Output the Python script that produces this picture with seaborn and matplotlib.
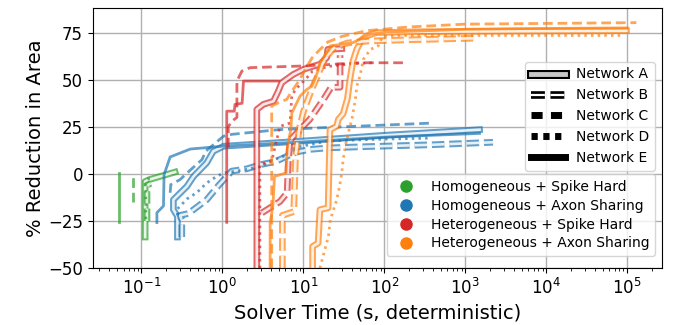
import numpy as np
import seaborn as sns
import matplotlib.pyplot as plt
import matplotlib.patheffects as pe
from matplotlib.lines import Line2D

plt.rcParams['lines.scale_dashes'] = False

# Homogeneous + Spike Hard (green)
hs_a_t = [0.111, 0.111, 0.125, 0.26]
hs_a_y = [-33.5, -4, -3, 1]
hs_b_t = [0.117, 0.117, 0.13]
hs_b_y = [-25, -6, -5]
hs_c_t = [0.078, 0.078]
hs_c_y = [-15, 0]
hs_d_t = [0.113, 0.113, 0.122, 0.122]
hs_d_y = [-24, -5, -3, 0]
hs_e_t = [0.053, 0.053]
hs_e_y = [-25.7, 0.7]

# Homogeneous + Axon Sharing (blue)
ha_a_t = [0.278, 0.278, 0.248, 0.248, 0.364, 0.44, 0.64, 0.77, 1.03, 10, 100, 1500]
ha_a_y = [-33.5, -22.5, -19, -13.7, -6.6, -1.3, 5.9, 12, 14.7, 17.5, 20.5, 23.5]
ha_b_t = [0.315, 0.315, 0.30, 0.38, 0.64, 0.9, 1.3, 2.0, 3.0, 4.5, 8, 12, 20, 60, 400, 2200]
ha_b_y = [-33.5, -25, -22, -21, -13.7, -6, 1.5, 2.7, 5, 6.5, 11.5, 13, 13.8, 14.5, 15.5, 16.8]
ha_c_t = [0.226, 0.23, 0.3, 0.4, 0.56, 0.62, 0.75, 1.03, 1.3, 5, 30, 400]
ha_c_y = [-10, -5.7, -3, 2, 7.6, 12, 15, 20, 21, 23.5, 25, 27]
ha_d_t = [0.278, 0.278, 0.364, 0.48, 0.64, 0.85, 1.03, 1.5, 2.0, 3.0, 4.3, 5.6, 8, 20, 100, 365]
ha_d_y = [-22, -18.6, -13.3, -10, -4.8, -1.3, 0.5, 1.5, 2.5, 4, 7.6, 9.2, 14, 17.5, 18.5, 19]
ha_e_t = [0.155, 0.155, 0.187, 0.19, 0.226, 0.4, 1.0, 10, 100, 1500]
ha_e_y = [-25.8, -20.6, -17, -0.4, 9, 13.2, 14.7, 17, 19.5, 21.5]

# Heterogeneous + Spike Hard (red)
hts_a_t = [2.66, 2.66, 3.2, 4.27, 4.9, 5.4, 7.5, 10, 13.3, 16, 19.4, 20, 29.8]
hts_a_y = [-50, 34.2, 36.9, 38.6, 44, 48.4, 52.8, 55.5, 57.2, 58.2, 61.7, 66.1, 66.5]
hts_b_t = [3.07, 5.15, 6.3, 6.5, 6.85, 12, 18, 22, 28.4, 28.4]
hts_b_y = [-20.7, -14.6, -10, 6, 18, 29, 40, 46, 46, 63]
hts_c_t = [1.18, 1.18, 1.31, 1.51, 1.51, 1.74, 2.2, 10, 50, 192]
hts_c_y = [14, 25, 28, 30, 49.3, 54.6, 56.4, 57.3, 59, 59]
hts_d_t = [2.9, 2.9, 4.07, 4.27, 5.15, 6.85, 7.2, 8.5, 10.5, 13, 20, 40, 70]
hts_d_y = [-50, 5, 6.7, 11, 25.3, 27, 42, 46, 50, 54.6, 57, 58.5, 59]
hts_e_t = [1.13, 1.13, 1.4, 1.43, 1.75, 1.82, 4.9]
hts_e_y = [-25.7, 33.3, 33.3, 36.9, 37.5, 49.3, 49.3]

# Heterogeneous + Axon Sharing (orange)
hta_a_t = [13, 13, 15.2, 16, 20.2, 21.3, 25.8, 27, 31, 35, 37.5, 41, 45.5, 52, 60, 80, 300, 5000, 98000]
hta_a_y = [-50, -38.5, -36.7, -19, -18, 23.5, 25.3, 28.9, 32, 40, 50, 60, 66, 71, 73.2, 75, 75.5, 75.8, 76]
hta_b_t = [5.5, 5.5, 7.6, 8.0, 8.3, 9, 10, 11.5, 13, 15, 17, 20, 24, 35, 60, 200, 1250]
hta_b_y = [-50, -22, -20, 9, 15, 25, 33, 40, 46, 52, 58, 63, 67, 69.5, 70.5, 71.2, 72]
hta_c_t = [4.06, 4.06, 4.9, 6.2, 7.0, 9, 11, 13, 16, 20, 30, 60, 200, 1000, 130000]
hta_c_y = [-50, 36, 37.8, 39.5, 43, 50, 57, 62, 66, 70, 73, 76, 78, 79.5, 80.3]
hta_d_t = [16, 20.4, 21.5, 25.8, 28, 29.8, 31, 33, 36, 39.8, 44, 45.7, 50, 55, 67, 84, 95, 150, 89000]
hta_d_y = [-50, -33, -24.3, -13.7, -6.6, 0.5, 7.6, 14.7, 22, 29, 40, 46.6, 52, 60.8, 66, 68, 73, 73.5, 73.5]
hta_e_t = [3.88, 3.88, 4.2, 4.4, 6.1, 6.3, 6.6, 7.0, 7.2, 9.1, 11, 12.7, 13.9, 15.3, 16, 19.4, 21.3, 41, 66, 107, 273, 1040, 4700, 100000]
hta_e_y = [-50, -26, -17, -1.3, 0.5, 13, 18.2, 23.5, 32.4, 41.3, 44.8, 46.6, 50.2, 55.5, 59, 64.4, 67.9, 69.7, 74.1, 75.3, 75.9, 76.8, 77.1, 77.5]

group_names = ['Homogeneous + Spike Hard', 'Homogeneous + Axon Sharing',
               'Heterogeneous + Spike Hard', 'Heterogeneous + Axon Sharing']
group_colors = ['tab:green', 'tab:blue', 'tab:red', 'tab:orange']
network_names = ['Network A', 'Network B', 'Network C', 'Network D', 'Network E']

curves = [
    ('tab:green', 'A', hs_a_t, hs_a_y), ('tab:green', 'B', hs_b_t, hs_b_y),
    ('tab:green', 'C', hs_c_t, hs_c_y), ('tab:green', 'D', hs_d_t, hs_d_y),
    ('tab:green', 'E', hs_e_t, hs_e_y),
    ('tab:blue', 'A', ha_a_t, ha_a_y), ('tab:blue', 'B', ha_b_t, ha_b_y),
    ('tab:blue', 'C', ha_c_t, ha_c_y), ('tab:blue', 'D', ha_d_t, ha_d_y),
    ('tab:blue', 'E', ha_e_t, ha_e_y),
    ('tab:red', 'A', hts_a_t, hts_a_y), ('tab:red', 'B', hts_b_t, hts_b_y),
    ('tab:red', 'C', hts_c_t, hts_c_y), ('tab:red', 'D', hts_d_t, hts_d_y),
    ('tab:red', 'E', hts_e_t, hts_e_y),
    ('tab:orange', 'A', hta_a_t, hta_a_y), ('tab:orange', 'B', hta_b_t, hta_b_y),
    ('tab:orange', 'C', hta_c_t, hta_c_y), ('tab:orange', 'D', hta_d_t, hta_d_y),
    ('tab:orange', 'E', hta_e_t, hta_e_y),
]

line_styles = {'A': '-', 'B': (0, (9, 3.5)), 'C': (0, (7, 3.5)), 'D': (0, (1.8, 3)), 'E': '-'}

fig, ax = plt.subplots(figsize=(6.77, 3.25), dpi=100)
fig.subplots_adjust(left=0.137, right=0.978, bottom=0.175, top=0.975)

for color, net, t, y in curves:
    if net in ('A', 'B'):
        # outlined line: wide coloured stroke, light core on top
        sns.lineplot(x=t, y=y, ax=ax, color=color, linewidth=4.8, alpha=0.7,
                     linestyle=line_styles[net], sort=False, estimator=None)
        ax.plot(t, y, color='white', linewidth=1.9, alpha=0.85,
                linestyle=line_styles[net])
    else:
        sns.lineplot(x=t, y=y, ax=ax, color=color, linewidth=2, alpha=0.7,
                     linestyle=line_styles[net], sort=False, estimator=None)

ax.set_xscale('log')
ax.set_xlim(0.025, 2.7e5)
ax.set_ylim(-50, 88)
ax.set_yticks([-50, -25, 0, 25, 50, 75])
ax.grid(True, which='major', color='#b0b0b0', lw=1)
ax.tick_params(labelsize=12)
ax.set_xlabel('Solver Time (s, deterministic)', fontsize=14)
ax.set_ylabel('% Reduction in Area', fontsize=14, labelpad=2)

net_handles = [
    Line2D([], [], color='#c8c8c8', lw=3.5,
           path_effects=[pe.Stroke(linewidth=6.5, foreground='black'), pe.Normal()]),
    Line2D([], [], color='white', lw=1.6, linestyle=(0, (10, 4)),
           path_effects=[pe.Stroke(linewidth=5.5, foreground='black'), pe.Normal()]),
    Line2D([], [], color='black', lw=5, linestyle=(0, (8, 6))),
    Line2D([], [], color='black', lw=5, linestyle=(0, (4.5, 4))),
    Line2D([], [], color='black', lw=5),
]
leg1 = ax.legend(net_handles, network_names, loc='upper right',
                 bbox_to_anchor=(1, 0.82), fontsize=10, handlelength=2.5)
ax.add_artist(leg1)

grp_handles = [Line2D([], [], marker='o', ls='', color=c, markersize=8) for c in group_colors]
ax.legend(grp_handles, group_names, loc='lower right',
          bbox_to_anchor=(1, 0.02), fontsize=10, labelspacing=0.35)

plt.savefig('out.png', dpi=100)
